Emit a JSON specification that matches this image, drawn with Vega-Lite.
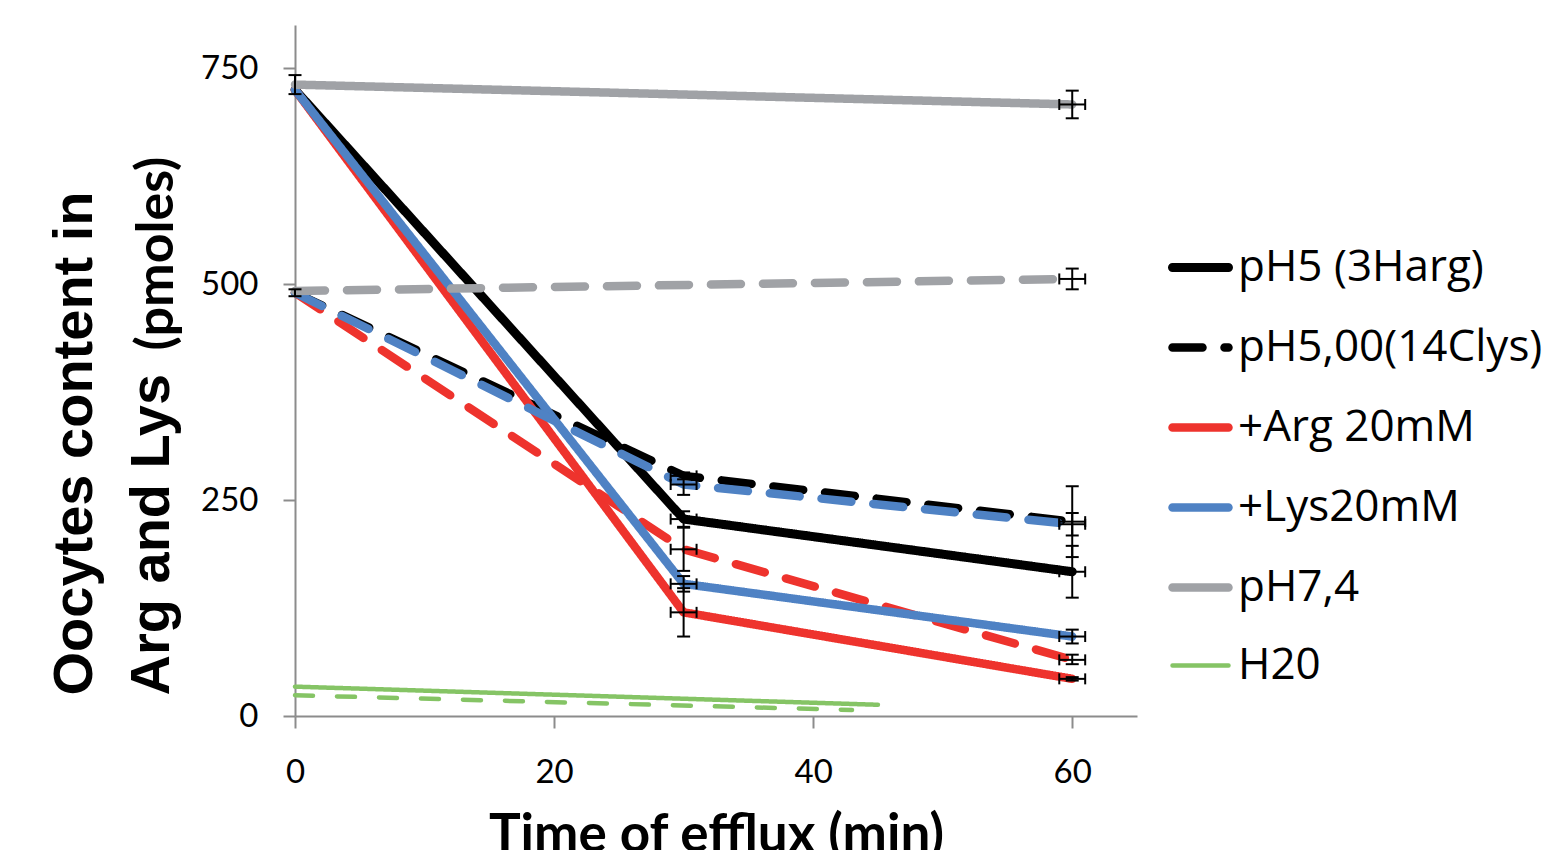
{
  "$schema": "https://vega.github.io/schema/vega-lite/v6.json",
  "width": 842,
  "height": 691,
  "autosize": "none",
  "padding": {"left": 295, "top": 25, "right": 423, "bottom": 134},
  "background": "white",
  "config": {
    "view": {"stroke": null},
    "axis": {
      "grid": false,
      "domainColor": "#8C8C8C",
      "domainWidth": 2,
      "tickColor": "#8C8C8C",
      "tickWidth": 2,
      "tickSize": 12,
      "labelFont": "Lato",
      "labelFontSize": 33,
      "labelColor": "black",
      "labelFlush": false
    }
  },
  "datasets": {
    "lines": [
      {"series": "pH5 (3Harg)", "time": 0, "value": 725},
      {"series": "pH5 (3Harg)", "time": 30, "value": 228},
      {"series": "pH5 (3Harg)", "time": 60, "value": 167},
      {"series": "pH5,00(14Clys)", "time": 0, "value": 490},
      {"series": "pH5,00(14Clys)", "time": 30, "value": 278},
      {"series": "pH5,00(14Clys)", "time": 60, "value": 225},
      {"series": "+Arg 20mM", "time": 0, "value": 725},
      {"series": "+Arg 20mM", "time": 30, "value": 120},
      {"series": "+Arg 20mM", "time": 60, "value": 43},
      {"series": "+Arg 20mM (14Clys)", "time": 0, "value": 490},
      {"series": "+Arg 20mM (14Clys)", "time": 30, "value": 193},
      {"series": "+Arg 20mM (14Clys)", "time": 60, "value": 65},
      {"series": "+Lys20mM", "time": 0, "value": 725},
      {"series": "+Lys20mM", "time": 30, "value": 153},
      {"series": "+Lys20mM", "time": 60, "value": 92},
      {"series": "+Lys20mM (14Clys)", "time": 0, "value": 490},
      {"series": "+Lys20mM (14Clys)", "time": 30, "value": 268},
      {"series": "+Lys20mM (14Clys)", "time": 60, "value": 222},
      {"series": "pH7,4", "time": 0, "value": 731},
      {"series": "pH7,4", "time": 60, "value": 708},
      {"series": "pH7,4 (14Clys)", "time": 0, "value": 492},
      {"series": "pH7,4 (14Clys)", "time": 60, "value": 506},
      {"series": "H20", "time": 0, "value": 34},
      {"series": "H20", "time": 45, "value": 13},
      {"series": "H20 (14Clys)", "time": 0, "value": 24},
      {"series": "H20 (14Clys)", "time": 43, "value": 7}
    ],
    "yerr": [
      {"series": "pH7,4", "time": 0, "lo": 720, "hi": 742},
      {"series": "pH5,00(14Clys)", "time": 0, "lo": 486, "hi": 494},
      {"series": "pH5 (3Harg)", "time": 30, "lo": 219, "hi": 237},
      {"series": "pH5,00(14Clys)", "time": 30, "lo": 274, "hi": 282},
      {"series": "+Lys20mM (14Clys)", "time": 30, "lo": 256, "hi": 280},
      {"series": "+Arg 20mM (14Clys)", "time": 30, "lo": 168, "hi": 218},
      {"series": "+Lys20mM", "time": 30, "lo": 144, "hi": 162},
      {"series": "+Arg 20mM", "time": 30, "lo": 92, "hi": 148},
      {"series": "pH5 (3Harg)", "time": 60, "lo": 137, "hi": 197},
      {"series": "pH5,00(14Clys)", "time": 60, "lo": 184, "hi": 266},
      {"series": "+Lys20mM (14Clys)", "time": 60, "lo": 209, "hi": 235},
      {"series": "+Lys20mM", "time": 60, "lo": 84, "hi": 100},
      {"series": "+Arg 20mM (14Clys)", "time": 60, "lo": 60, "hi": 71},
      {"series": "+Arg 20mM", "time": 60, "lo": 41, "hi": 45},
      {"series": "pH7,4", "time": 60, "lo": 692, "hi": 724},
      {"series": "pH7,4 (14Clys)", "time": 60, "lo": 494, "hi": 518}
    ],
    "xerr": [
      {"series": "pH5 (3Harg)", "value": 228, "xlo": 29, "xhi": 31},
      {"series": "pH5,00(14Clys)", "value": 278, "xlo": 29, "xhi": 31},
      {"series": "+Lys20mM (14Clys)", "value": 268, "xlo": 29, "xhi": 31},
      {"series": "+Arg 20mM (14Clys)", "value": 193, "xlo": 29, "xhi": 31},
      {"series": "+Lys20mM", "value": 153, "xlo": 29, "xhi": 31},
      {"series": "+Arg 20mM", "value": 120, "xlo": 29, "xhi": 31},
      {"series": "pH5 (3Harg)", "value": 167, "xlo": 59, "xhi": 61},
      {"series": "pH5,00(14Clys)", "value": 225, "xlo": 59, "xhi": 61},
      {"series": "+Lys20mM (14Clys)", "value": 222, "xlo": 59, "xhi": 61},
      {"series": "+Lys20mM", "value": 92, "xlo": 59, "xhi": 61},
      {"series": "+Arg 20mM (14Clys)", "value": 65, "xlo": 59, "xhi": 61},
      {"series": "+Arg 20mM", "value": 43, "xlo": 59, "xhi": 61},
      {"series": "pH7,4", "value": 708, "xlo": 59, "xhi": 61},
      {"series": "pH7,4 (14Clys)", "value": 506, "xlo": 59, "xhi": 61}
    ]
  },
  "resolve": {"axis": {"y": "independent"}},
  "layer": [
    {
      "data": {"name": "lines"},
      "mark": {"type": "line", "strokeCap": "round", "strokeJoin": "round"},
      "encoding": {
        "x": {
          "field": "time", "type": "quantitative",
          "scale": {"domain": [0, 65], "nice": false},
          "axis": {
            "values": [0, 20, 40, 60],
            "title": "Time of efflux (min)",
            "titleFont": "Lato", "titleFontWeight": "bold", "titleFontSize": 53,
            "titleColor": "black", "titlePadding": 20, "labelPadding": 28
          }
        },
        "y": {
          "field": "value", "type": "quantitative",
          "scale": {"domain": [0, 800], "nice": false},
          "axis": {
            "values": [0, 250, 500, 750],
            "labelPadding": 25,
            "title": ["Oocytes content in", "Arg and Lys"],
            "titleFont": "Liberation Sans", "titleFontWeight": "bold", "titleFontSize": 56,
            "titleLineHeight": 77, "titleColor": "black",
            "titleX": -204, "titleY": 670, "titleAngle": 270,
            "titleAlign": "left", "titleBaseline": "alphabetic"
          }
        },
        "color": {
          "field": "series", "type": "nominal",
          "scale": {
            "domain": ["pH5 (3Harg)", "pH5,00(14Clys)", "+Arg 20mM", "+Arg 20mM (14Clys)", "+Lys20mM", "+Lys20mM (14Clys)", "pH7,4", "pH7,4 (14Clys)", "H20", "H20 (14Clys)"],
            "range": ["#000000", "#000000", "#EE332D", "#EE332D", "#4F82C4", "#4F82C4", "#A0A2A6", "#A0A2A6", "#85C465", "#85C465"]
          },
          "legend": {
            "orient": "none", "legendX": 873, "legendY": 210,
            "title": null, "padding": 0,
            "values": ["pH5 (3Harg)", "pH5,00(14Clys)", "+Arg 20mM", "+Lys20mM", "pH7,4", "H20"],
            "labelFont": "Open Sans", "labelFontSize": 44, "labelColor": "black",
            "labelLimit": 600, "labelOffset": 5,
            "symbolType": "stroke", "symbolSize": 3136, "rowPadding": 25,
            "encode": {"symbols": {"update": {"strokeCap": {"value": "round"}}}}
          }
        },
        "strokeDash": {
          "field": "series", "type": "nominal",
          "scale": {
            "domain": ["pH5 (3Harg)", "pH5,00(14Clys)", "+Arg 20mM", "+Arg 20mM (14Clys)", "+Lys20mM", "+Lys20mM (14Clys)", "pH7,4", "pH7,4 (14Clys)", "H20", "H20 (14Clys)"],
            "range": [[1, 0], [30, 22], [1, 0], [30, 22], [1, 0], [30, 22], [1, 0], [30, 22], [1, 0], [18, 24]]
          }
        },
        "strokeWidth": {
          "field": "series", "type": "nominal",
          "scale": {
            "type": "ordinal",
            "domain": ["pH5 (3Harg)", "pH5,00(14Clys)", "+Arg 20mM", "+Arg 20mM (14Clys)", "+Lys20mM", "+Lys20mM (14Clys)", "pH7,4", "pH7,4 (14Clys)", "H20", "H20 (14Clys)"],
            "range": [9, 8.5, 8.5, 8.5, 8.5, 8.5, 8.5, 8.5, 4.5, 4.5]
          }
        }
      }
    },
    {
      "data": {"name": "yerr"},
      "mark": {"type": "rule", "color": "black", "strokeWidth": 2},
      "encoding": {
        "x": {"field": "time", "type": "quantitative", "title": "Time of efflux (min)"},
        "y": {"field": "lo", "type": "quantitative", "axis": null},
        "y2": {"field": "hi"}
      }
    },
    {
      "data": {"name": "yerr"},
      "mark": {"type": "tick", "color": "black", "orient": "horizontal", "size": 13, "thickness": 2, "opacity": 1},
      "encoding": {
        "x": {"field": "time", "type": "quantitative", "title": "Time of efflux (min)"},
        "y": {"field": "lo", "type": "quantitative", "axis": null}
      }
    },
    {
      "data": {"name": "yerr"},
      "mark": {"type": "tick", "color": "black", "orient": "horizontal", "size": 13, "thickness": 2, "opacity": 1},
      "encoding": {
        "x": {"field": "time", "type": "quantitative", "title": "Time of efflux (min)"},
        "y": {"field": "hi", "type": "quantitative", "axis": null}
      }
    },
    {
      "data": {"name": "xerr"},
      "mark": {"type": "rule", "color": "black", "strokeWidth": 2},
      "encoding": {
        "x": {"field": "xlo", "type": "quantitative", "title": "Time of efflux (min)"},
        "x2": {"field": "xhi"},
        "y": {"field": "value", "type": "quantitative", "axis": null}
      }
    },
    {
      "data": {"name": "xerr"},
      "mark": {"type": "tick", "color": "black", "orient": "vertical", "size": 11, "thickness": 2, "opacity": 1},
      "encoding": {
        "x": {"field": "xlo", "type": "quantitative", "title": "Time of efflux (min)"},
        "y": {"field": "value", "type": "quantitative", "axis": null}
      }
    },
    {
      "data": {"name": "xerr"},
      "mark": {"type": "tick", "color": "black", "orient": "vertical", "size": 11, "thickness": 2, "opacity": 1},
      "encoding": {
        "x": {"field": "xhi", "type": "quantitative", "title": "Time of efflux (min)"},
        "y": {"field": "value", "type": "quantitative", "axis": null}
      }
    },
    {
      "data": {"name": "lines"},
      "mark": {"type": "rule", "opacity": 0},
      "encoding": {
        "y": {
          "field": "value", "type": "quantitative",
          "axis": {
            "orient": "left", "labels": false, "ticks": false, "domain": false, "grid": false,
            "title": "(pmoles)",
            "titleFont": "Lato", "titleFontWeight": "bold", "titleFontSize": 52, "titleColor": "black",
            "titleX": -123, "titleY": 325, "titleAngle": 270,
            "titleAlign": "left", "titleBaseline": "alphabetic"
          }
        }
      }
    }
  ]
}
